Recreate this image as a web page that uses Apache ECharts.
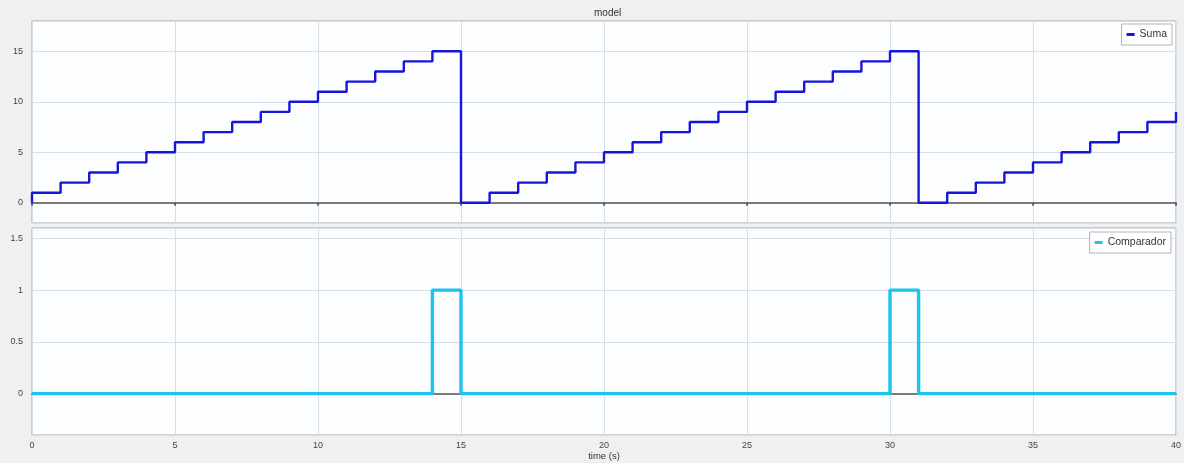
<!DOCTYPE html>
<html>
<head>
<meta charset="utf-8">
<script src="https://cdn.jsdelivr.net/npm/echarts@6/dist/echarts.min.js"></script>
<style>
  html, body { margin: 0; padding: 0; background: #f0f0f0; }
  #chart { width: 1184px; height: 463px; }
</style>
</head>
<body>
<div id="chart"></div>
<script>
// Simulation output: sample times (s) and the held value from each time onward
const sumaTime = [0, 0, 1, 2, 3, 4, 5, 6, 7, 8, 9, 10, 11, 12, 13, 14,
                  15, 16, 17, 18, 19, 20, 21, 22, 23, 24, 25, 26, 27, 28, 29, 30,
                  31, 32, 33, 34, 35, 36, 37, 38, 39, 40];
const sumaValues = [0, 1, 2, 3, 4, 5, 6, 7, 8, 9, 10, 11, 12, 13, 14, 15,
                    0, 1, 2, 3, 4, 5, 6, 7, 8, 9, 10, 11, 12, 13, 14, 15,
                    0, 1, 2, 3, 4, 5, 6, 7, 8, 9];

const compTime = [0, 14, 15, 30, 31, 40];
const compValues = [0, 1, 0, 1, 0, 0];

const xTicks = [0, 5, 10, 15, 20, 25, 30, 35, 40];

const FONT = 'Liberation Sans';
const gridLineColor = '#d4dfeb';
const frameColor = '#a9a9a9';
const zeroLine = { color: '#7a7a7a', width: 1.8 };

function pairs(t, v) { return t.map((x, i) => [x, v[i]]); }

const chart = echarts.init(document.getElementById('chart'), null, { renderer: 'canvas' });

const legendBox = {
  orient: 'vertical', icon: 'rect', itemWidth: 8, itemHeight: 3,
  padding: [5, 5], borderColor: '#b4b4b4', borderWidth: 1, backgroundColor: '#ffffff',
  textStyle: { fontSize: 10.5, color: '#333', fontFamily: FONT }
};

const option = {
  backgroundColor: '#f0f0f0',
  animation: false,
  textStyle: { fontFamily: FONT },
  title: {
    text: 'model', left: 589, top: 3,
    textStyle: { fontSize: 10, fontWeight: 'normal', color: '#333', fontFamily: FONT }
  },
  legend: [
    Object.assign({ data: ['Suma'], right: 12, top: 24 }, legendBox),
    Object.assign({ data: ['Comparador'], right: 13, top: 232 }, legendBox)
  ],
  grid: [
    { left: 32, right: 8, top: 21, height: 202, show: true, borderColor: frameColor, borderWidth: 1, backgroundColor: '#fcfdff' },
    { left: 32, right: 8, top: 228, height: 207, show: true, borderColor: frameColor, borderWidth: 1, backgroundColor: '#fcfdff' }
  ],
  xAxis: [
    {
      gridIndex: 0, type: 'value', min: xTicks[0], max: xTicks[xTicks.length - 1], interval: 5,
      axisLine: { show: true, onZero: true, lineStyle: zeroLine },
      axisTick: { show: true, length: 3, lineStyle: { color: '#444', width: 1.5 } },
      axisLabel: { show: false },
      splitLine: { show: true, lineStyle: { color: gridLineColor, width: 1 } }
    },
    {
      gridIndex: 1, type: 'value', min: xTicks[0], max: xTicks[xTicks.length - 1], interval: 5,
      position: 'bottom',
      axisLine: { show: false, onZero: false },
      axisTick: { show: false },
      axisLabel: { show: true, fontSize: 9, color: '#444', margin: 6, fontFamily: FONT },
      splitLine: { show: true, lineStyle: { color: gridLineColor, width: 1 } },
      name: 'time (s)', nameLocation: 'middle', nameGap: 16,
      nameTextStyle: { fontSize: 9.5, color: '#333', fontFamily: FONT }
    },
    {
      // zero line of the lower plot
      gridIndex: 1, type: 'value', min: xTicks[0], max: xTicks[xTicks.length - 1], interval: 5,
      axisLine: { show: true, onZero: true, lineStyle: zeroLine },
      axisTick: { show: false },
      axisLabel: { show: false },
      splitLine: { show: false }
    }
  ],
  yAxis: [
    {
      gridIndex: 0, type: 'value', min: -2, max: 18, splitNumber: 4,
      axisLine: { show: false }, axisTick: { show: false },
      axisLabel: { fontSize: 9, color: '#444', margin: 9, showMinLabel: false, showMaxLabel: false, fontFamily: FONT },
      splitLine: { show: true, lineStyle: { color: gridLineColor, width: 1 } }
    },
    {
      gridIndex: 1, type: 'value', min: -0.4, max: 1.6, splitNumber: 4,
      axisLine: { show: false }, axisTick: { show: false },
      axisLabel: { fontSize: 9, color: '#444', margin: 9, showMinLabel: false, showMaxLabel: false, fontFamily: FONT },
      splitLine: { show: true, lineStyle: { color: gridLineColor, width: 1 } }
    }
  ],
  series: [
    {
      name: 'Suma', type: 'line', xAxisIndex: 0, yAxisIndex: 0,
      step: 'end', showSymbol: false, symbol: 'none',
      data: pairs(sumaTime, sumaValues),
      itemStyle: { color: '#1616d8' },
      lineStyle: { color: '#1616d8', width: 2.4 }
    },
    {
      name: 'Comparador', type: 'line', xAxisIndex: 1, yAxisIndex: 1,
      step: 'end', showSymbol: false, symbol: 'none',
      data: pairs(compTime, compValues),
      itemStyle: { color: '#1ec4ee' },
      lineStyle: { color: '#1ec4ee', width: 3.4 }
    }
  ]
};

chart.setOption(option);
</script>
</body>
</html>
